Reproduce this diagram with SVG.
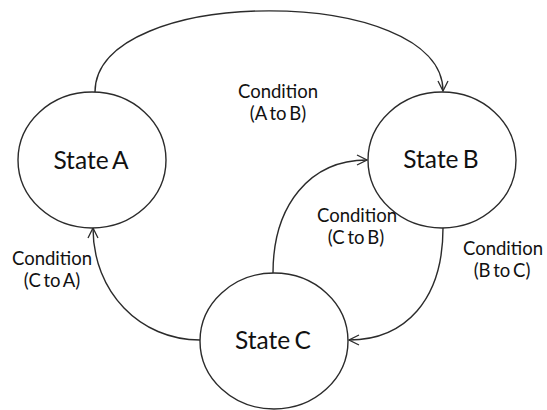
<svg xmlns="http://www.w3.org/2000/svg" width="547" height="410" viewBox="0 0 547 410">
  <style>
    .state { fill: #ffffff; stroke: #2b2b2b; stroke-width: 1.4; }
    .edge { fill: none; stroke: #2b2b2b; stroke-width: 1.4; }
    .name { font-family: Lato, "Open Sans", sans-serif; font-size: 24.5px; fill: #111111; text-anchor: middle; word-spacing: -2px; }
    .cond { font-family: Lato, "Open Sans", sans-serif; font-size: 18.5px; fill: #111111; text-anchor: middle; word-spacing: -2px; }
  </style>
  <defs>
    <marker id="open-arrow" viewBox="0 0 12 12" refX="11" refY="6" markerWidth="12" markerHeight="12" markerUnits="userSpaceOnUse" orient="auto">
      <path d="M1,1 L11,6 L1,11" fill="none" stroke="#2b2b2b" stroke-width="1.3"/>
    </marker>
  </defs>

  <rect width="547" height="410" fill="#ffffff"/>

  <!-- transitions -->
  <g id="connectors">
    <path class="edge" d="M95,92 C95,-16 443,-16 443,91" marker-end="url(#open-arrow)"/>
    <path class="edge" d="M273,273 C273,205 310,160 367,160" marker-end="url(#open-arrow)"/>
    <path class="edge" d="M443,228 C443,300 405,340 349,340" marker-end="url(#open-arrow)"/>
    <path class="edge" d="M200,340 C140,340 93,292 93,228" marker-end="url(#open-arrow)"/>
  </g>

  <g id="state-a">
    <ellipse class="state" cx="92" cy="160" rx="74" ry="68"/>
    <text class="name" x="91" y="169">State A</text>
  </g>
  <g id="state-b">
    <ellipse class="state" cx="442" cy="160" rx="74" ry="68"/>
    <text class="name" x="441" y="168">State B</text>
  </g>
  <g id="state-c">
    <ellipse class="state" cx="274" cy="341" rx="74" ry="68"/>
    <text class="name" x="273" y="349">State C</text>
  </g>

  <!-- transition conditions -->
  <g id="label-a-b">
    <text class="cond" x="278" y="98">Condition</text>
    <text class="cond" x="278" y="120">(A to B)</text>
  </g>
  <g id="label-c-b">
    <text class="cond" x="357" y="222">Condition</text>
    <text class="cond" x="356" y="244">(C to B)</text>
  </g>
  <g id="label-b-c">
    <text class="cond" x="503" y="255">Condition</text>
    <text class="cond" x="502" y="277">(B to C)</text>
  </g>
  <g id="label-c-a">
    <text class="cond" x="52" y="265">Condition</text>
    <text class="cond" x="52" y="287">(C to A)</text>
  </g>
</svg>
